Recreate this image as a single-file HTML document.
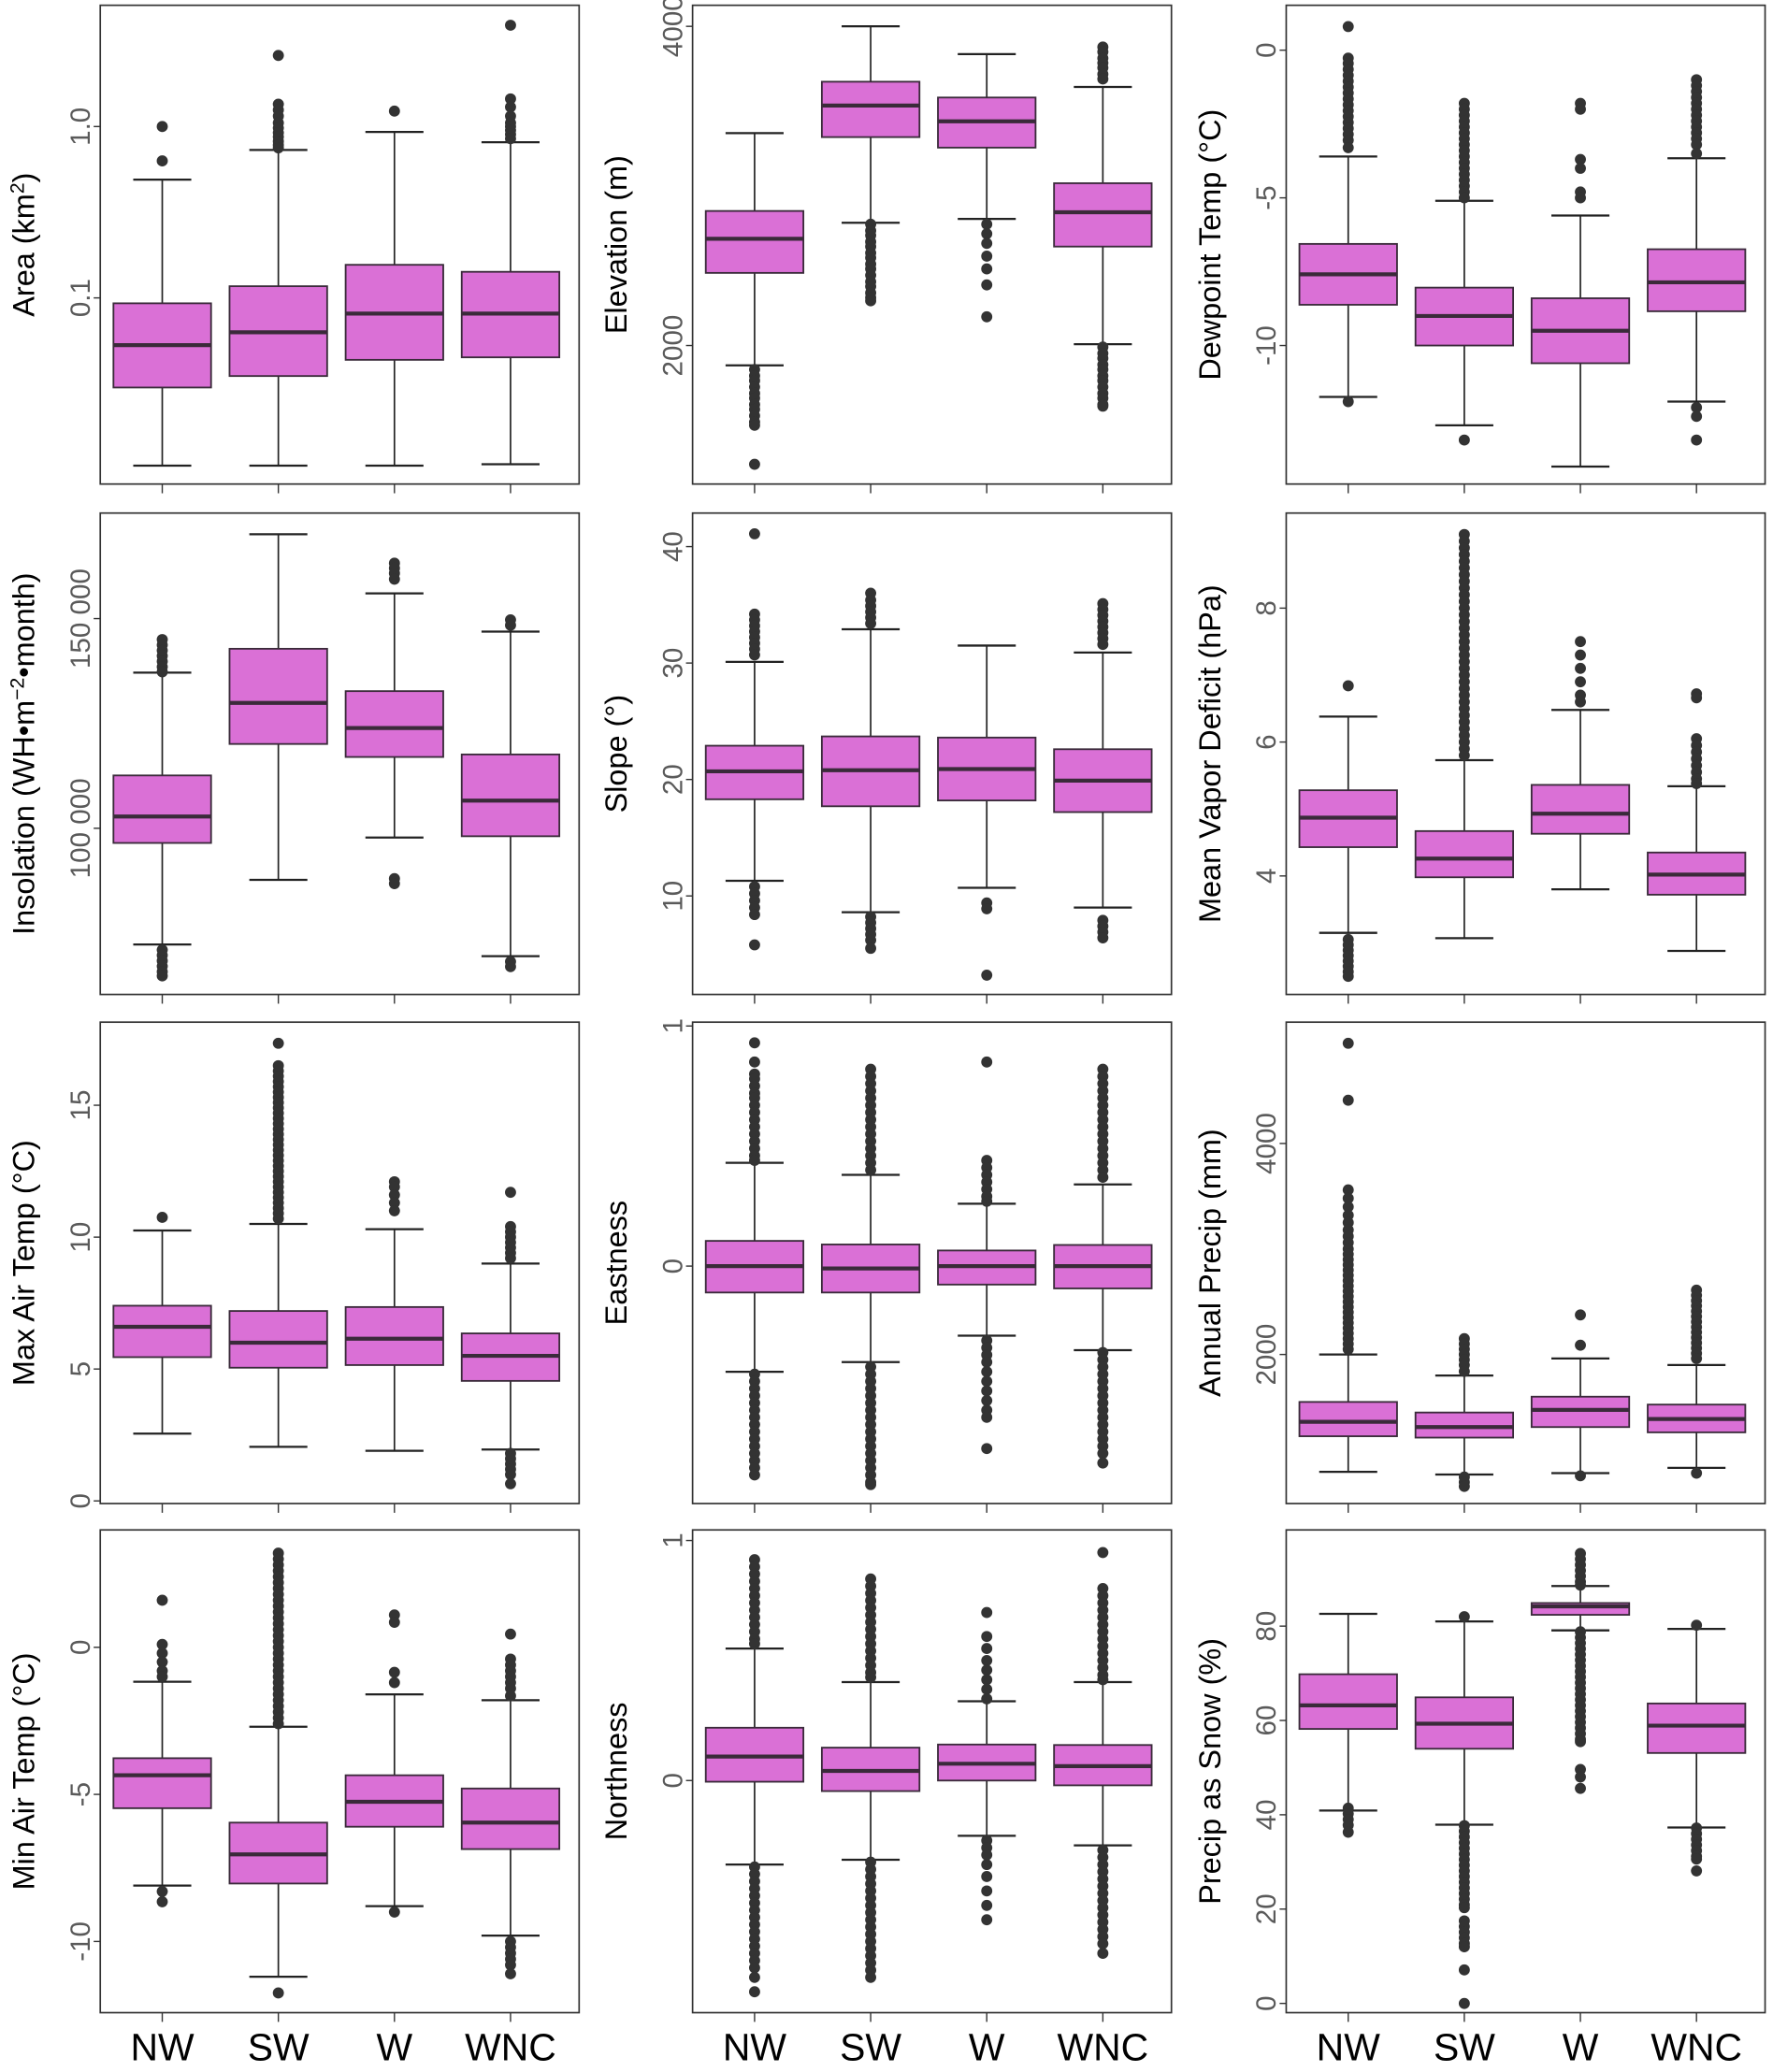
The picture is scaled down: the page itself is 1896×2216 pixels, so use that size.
<!DOCTYPE html>
<html><head><meta charset="utf-8"><style>
html,body{margin:0;padding:0;background:#fff;}
svg{display:block;font-family:"Liberation Sans",Arial,sans-serif;}
</style></head><body>
<svg id="chart" xmlns="http://www.w3.org/2000/svg" width="1896" height="2216" viewBox="0 0 1344 1571" preserveAspectRatio="none"></svg>
<script>
const categories = ["NW","SW","W","WNC"];

// stats per category: [lowWhisker, q1, median, q3, highWhisker]
const areaStats = [[0.0105,0.030,0.053,0.093,0.49],[0.0105,0.035,0.063,0.117,0.73],[0.0105,0.0435,0.081,0.156,0.93],[0.0107,0.045,0.081,0.142,0.81]];
const areaOut = [[1.0,0.63],[2.6,1.35,1.25,1.15,1.05,0.98,0.92,0.87,0.82,0.78,0.75],[1.23],[3.9,1.45,1.3,1.15,1.05,1.0,0.95,0.9,0.85]];

const elevStats = [[1876,2455,2669,2843,3331],[2769,3306,3504,3653,4000],[2793,3240,3405,3554,3826],[2008,2620,2835,3017,3620]];
const elevOut = [[1850,1810,1780,1740,1700,1670,1630,1600,1560,1520,1500,1256],[2760,2720,2690,2650,2620,2580,2550,2510,2480,2440,2400,2370,2330,2300,2280],[2760,2700,2640,2560,2480,2380,2180],[3870,3840,3800,3770,3740,3700,3670,1990,1950,1920,1880,1850,1810,1780,1740,1700,1670,1630,1620]];

const dewStats = [[-11.74,-8.62,-7.59,-6.56,-3.6],[-12.7,-10.0,-9.0,-8.04,-5.1],[-14.1,-10.6,-9.5,-8.4,-5.6],[-11.9,-8.84,-7.86,-6.74,-3.66]];
const dewOut = [[0.8,-0.27,-0.45,-0.65,-0.85,-1.05,-1.25,-1.45,-1.65,-1.85,-2.05,-2.25,-2.45,-2.65,-2.85,-3.05,-3.3,-11.9],[-1.8,-2.0,-2.2,-2.4,-2.6,-2.8,-3.0,-3.2,-3.4,-3.6,-3.8,-4.0,-4.2,-4.4,-4.6,-4.8,-5.0,-13.2],[-1.8,-2.0,-3.7,-4.0,-4.8,-5.0],[-1.0,-1.2,-1.4,-1.6,-1.8,-2.0,-2.2,-2.4,-2.6,-2.8,-3.0,-3.2,-3.5,-12.1,-12.4,-13.2]];

const insoStats = [[72300,96500,102800,112600,137100],[87700,120100,129900,142800,170100],[97800,117000,123900,132700,156000],[69500,98100,106600,117600,146900]];
const insoOut = [[145000,143700,142400,141100,139800,138500,137300,71000,69700,68400,67100,65800,64800],[],[163200,162000,160800,159400,88000,86800],[149700,148400,68200,67000]];

const slopeStats = [[11.3,18.3,20.7,22.9,30.1],[8.6,17.7,20.8,23.7,32.9],[10.7,18.2,20.9,23.6,31.5],[9.0,17.2,19.9,22.6,30.9]];
const slopeOut = [[41.1,34.2,33.7,33.2,32.7,32.2,31.7,31.2,30.7,10.8,10.2,9.6,9.0,8.4,5.8],[36.0,35.4,34.9,34.4,33.9,33.4,8.2,7.7,7.2,6.7,6.2,5.5],[9.4,8.9,3.2],[35.1,34.6,34.1,33.6,33.1,32.6,32.1,31.6,7.9,7.4,6.9,6.4]];

const vpdStats = [[3.15,4.43,4.87,5.28,6.38],[3.07,3.98,4.26,4.67,5.73],[3.8,4.63,4.93,5.36,6.48],[2.88,3.72,4.02,4.35,5.34]];
const vpdOut = [[6.84,3.05,2.97,2.89,2.81,2.73,2.65,2.57,2.5],[9.1,9.0,8.9,8.8,8.7,8.6,8.5,8.4,8.3,8.2,8.1,8.0,7.9,7.8,7.7,7.6,7.5,7.4,7.3,7.2,7.1,7.0,6.9,6.8,6.7,6.6,6.5,6.4,6.3,6.2,6.1,6.0,5.9,5.8],[7.5,7.3,7.1,6.9,6.7,6.6],[6.72,6.66,6.05,5.95,5.85,5.75,5.65,5.55,5.45,5.38]];

const tmaxStats = [[2.55,5.45,6.6,7.4,10.25],[2.05,5.05,6.0,7.2,10.5],[1.9,5.15,6.15,7.35,10.3],[1.95,4.55,5.5,6.35,9.0]];
const tmaxOut = [[10.75],[17.35,16.5,16.3,16.1,15.9,15.7,15.5,15.3,15.1,14.9,14.7,14.5,14.3,14.1,13.9,13.7,13.5,13.3,13.1,12.9,12.7,12.5,12.3,12.1,11.9,11.7,11.5,11.3,11.1,10.9,10.7],[12.1,11.9,11.6,11.3,11.0],[11.7,10.4,10.2,10.0,9.8,9.6,9.4,9.2,1.8,1.6,1.4,1.2,1.0,0.65]];

const eastStats = [[-0.44,-0.11,0.0,0.105,0.43],[-0.40,-0.11,-0.01,0.09,0.38],[-0.29,-0.077,0.0,0.065,0.26],[-0.35,-0.093,0.0,0.088,0.34]];
const eastOut = [[0.93,0.85,0.8,0.78,0.75,0.72,0.7,0.67,0.64,0.61,0.58,0.55,0.52,0.49,0.46,0.44,-0.45,-0.48,-0.51,-0.54,-0.57,-0.6,-0.63,-0.66,-0.69,-0.72,-0.75,-0.78,-0.81,-0.84,-0.87],[0.82,0.79,0.76,0.73,0.70,0.67,0.64,0.61,0.58,0.55,0.52,0.49,0.46,0.43,0.40,-0.42,-0.45,-0.48,-0.51,-0.54,-0.57,-0.6,-0.63,-0.66,-0.69,-0.72,-0.75,-0.78,-0.81,-0.84,-0.87,-0.9,-0.91],[0.85,0.44,0.41,0.38,0.35,0.32,0.29,0.27,-0.31,-0.34,-0.37,-0.4,-0.44,-0.48,-0.52,-0.56,-0.6,-0.63,-0.76],[0.82,0.79,0.76,0.73,0.70,0.67,0.64,0.61,0.58,0.55,0.52,0.49,0.46,0.43,0.40,0.37,-0.36,-0.39,-0.42,-0.45,-0.48,-0.51,-0.54,-0.57,-0.6,-0.63,-0.66,-0.69,-0.72,-0.75,-0.78,-0.82]];

const precStats = [[888,1225,1362,1550,2000],[862,1212,1312,1450,1800],[875,1312,1475,1600,1962],[925,1262,1388,1525,1900]];
const precOut = [[4950,4410,3560,3480,3400,3320,3250,3180,3120,3060,3000,2950,2900,2850,2800,2750,2700,2650,2600,2550,2500,2450,2400,2350,2300,2250,2200,2150,2100,2050],[2150,2100,2050,2000,1950,1900,1840,838,790,750],[2375,2088,850],[2610,2560,2510,2460,2410,2360,2310,2260,2210,2160,2110,2060,2010,1962,875]];

const tminStats = [[-8.1,-5.47,-4.35,-3.77,-1.17],[-11.2,-8.03,-7.04,-5.96,-2.7],[-8.8,-6.1,-5.25,-4.35,-1.6],[-9.8,-6.86,-5.96,-4.8,-1.8]];
const tminOut = [[1.6,0.1,-0.2,-0.5,-0.8,-1.0,-8.3,-8.65],[3.2,3.0,2.8,2.6,2.4,2.2,2.0,1.8,1.6,1.4,1.2,1.0,0.8,0.6,0.4,0.2,0.0,-0.2,-0.4,-0.6,-0.8,-1.0,-1.2,-1.4,-1.6,-1.8,-2.0,-2.2,-2.4,-2.6,-11.75],[1.1,0.85,-0.85,-1.2,-9.0],[0.45,-0.4,-0.6,-0.8,-1.0,-1.2,-1.4,-1.65,-10.0,-10.2,-10.4,-10.6,-10.8,-11.1]];

const northStats = [[-0.35,-0.005,0.10,0.22,0.55],[-0.33,-0.044,0.04,0.137,0.41],[-0.23,0.0,0.07,0.15,0.33],[-0.27,-0.02,0.06,0.148,0.41]];
const northOut = [[0.92,0.89,0.86,0.83,0.80,0.77,0.74,0.71,0.68,0.65,0.62,0.59,0.57,-0.36,-0.39,-0.42,-0.45,-0.48,-0.51,-0.54,-0.57,-0.6,-0.63,-0.66,-0.69,-0.72,-0.75,-0.78,-0.82,-0.88],[0.84,0.81,0.78,0.75,0.72,0.69,0.66,0.63,0.60,0.57,0.54,0.51,0.48,0.45,0.43,-0.34,-0.37,-0.4,-0.43,-0.46,-0.49,-0.52,-0.55,-0.58,-0.61,-0.64,-0.67,-0.7,-0.73,-0.76,-0.79,-0.82],[0.70,0.60,0.55,0.50,0.46,0.42,0.38,0.34,-0.25,-0.28,-0.31,-0.35,-0.4,-0.46,-0.52,-0.58],[0.95,0.8,0.77,0.74,0.71,0.68,0.65,0.62,0.59,0.56,0.53,0.50,0.47,0.44,0.42,-0.29,-0.32,-0.35,-0.38,-0.41,-0.44,-0.47,-0.5,-0.53,-0.56,-0.59,-0.62,-0.65,-0.68,-0.72]];

const snowStats = [[40.9,58.2,63.2,69.8,82.6],[37.9,54.0,59.3,64.9,81.0],[79.1,82.4,84.2,84.9,88.5],[37.3,53.1,58.9,63.6,79.4]];
const snowOut = [[41.4,40.2,39.0,37.8,36.3],[82,37.7,36.5,35.3,34.1,32.9,31.7,30.5,29.3,28.1,26.9,25.7,24.5,23.3,22.1,20.9,20.3,17.5,16.3,15.1,13.9,12.7,12,7.1,0],[95.4,94.2,93,91.8,90.6,89.4,88.7,78.8,77.6,76.4,75.2,74,72.8,71.6,70.4,69.2,68,66.8,65.6,64.4,63.2,62,60.8,59.6,58.4,57.2,56,55.5,49.6,48,45.6],[80.2,37.2,36,34.8,33.6,32.4,31.2,30.6,28.1]];

const panels = [
 {key:"area",col:0,row:0,title:'Area (km<tspan dy="-8" font-size="15">2</tspan><tspan dy="8">)</tspan>',min:0.0082,max:5.1,log:true,ticks:[0.1,1.0],labels:["0.1","1.0"],stats:areaStats,out:areaOut},
 {key:"elevation",col:1,row:0,title:"Elevation (m)",min:1132,max:4132,ticks:[2000,4000],labels:["2000","4000"],stats:elevStats,out:elevOut},
 {key:"dewpoint",col:2,row:0,title:"Dewpoint Temp (°C)",min:-14.69,max:1.52,ticks:[-10,-5,0],labels:["-10","-5","0"],stats:dewStats,out:dewOut},
 {key:"insolation",col:0,row:1,title:'Insolation (WH•m<tspan dy="-8" font-size="15">−2</tspan><tspan dy="8">•month)</tspan>',min:60377,max:175160,ticks:[100000,150000],labels:["100 000","150 000"],stats:insoStats,out:insoOut},
 {key:"slope",col:1,row:1,title:"Slope (°)",min:1.54,max:42.88,ticks:[10,20,30,40],labels:["10","20","30","40"],stats:slopeStats,out:slopeOut},
 {key:"vpd",col:2,row:1,title:"Mean Vapor Deficit (hPa)",min:2.23,max:9.42,ticks:[4,6,8],labels:["4","6","8"],stats:vpdStats,out:vpdOut},
 {key:"tmax",col:0,row:2,title:"Max Air Temp (°C)",min:-0.1,max:18.15,ticks:[0,5,10,15],labels:["0","5","10","15"],stats:tmaxStats,out:tmaxOut},
 {key:"eastness",col:1,row:2,title:"Eastness",min:-0.989,max:1.016,ticks:[0,1],labels:["0","1"],stats:eastStats,out:eastOut},
 {key:"precip",col:2,row:2,title:"Annual Precip (mm)",min:587,max:5150,ticks:[2000,4000],labels:["2000","4000"],stats:precStats,out:precOut},
 {key:"tmin",col:0,row:3,title:"Min Air Temp (°C)",min:-12.42,max:3.99,ticks:[-10,-5,0],labels:["-10","-5","0"],stats:tminStats,out:tminOut},
 {key:"northness",col:1,row:3,title:"Northness",min:-0.967,max:1.044,ticks:[0,1],labels:["0","1"],stats:northStats,out:northOut},
 {key:"snow",col:2,row:3,title:"Precip as Snow (%)",min:-1.96,max:100.4,ticks:[0,20,40,60,80],labels:["0","20","40","60","80"],stats:snowStats,out:snowOut}
];

const colLeft=[76,525,975], colW=363;
const rowTop=[4,389,775,1160], rowH=[363,365,365,366];
const svg=document.getElementById('chart');
const NS="http://www.w3.org/2000/svg";
function mk(tag,attrs,parent){const e=document.createElementNS(NS,tag);for(const k in attrs)e.setAttribute(k,attrs[k]);(parent||svg).appendChild(e);return e;}

panels.forEach(p=>{
  const L=colLeft[p.col], T=rowTop[p.row], H=rowH[p.row];
  const g=mk('g',{});
  
  
  const tr = v => p.log ? Math.log10(v) : v;
  const y = v => T + H - (tr(v)-tr(p.min))/(tr(p.max)-tr(p.min))*H;
  const x = i => L + 47 + i*88;
  const frame=mk('rect',{x:L,y:T,width:colW,height:H,fill:'#fff',stroke:'#333','stroke-width':1.2},g);
  
  
  p.ticks.forEach((t,i)=>{
    const yy=y(t);
    mk('line',{x1:L-5,x2:L,y1:yy,y2:yy,stroke:'#333','stroke-width':1},g);
    const tx=mk('text',{x:0,y:0,transform:`translate(${L-8},${yy}) rotate(-90)`,'text-anchor':'middle','font-size':21,fill:'#5a5a5a'},g);
    tx.textContent=p.labels[i];
    
    
  });
  const ti=mk('text',{x:0,y:0,transform:`translate(${L-50},${T+H/2}) rotate(-90)`,'text-anchor':'middle','font-size':23,fill:'#000'},g);
  ti.innerHTML=p.title;
  
  
  categories.forEach((c,i)=>{
    const cx=x(i), s=p.stats[i];
    mk('line',{x1:cx,x2:cx,y1:T+H,y2:T+H+7,stroke:'#333','stroke-width':1},g);
    mk('line',{x1:cx,x2:cx,y1:y(s[0]),y2:y(s[4]),stroke:'#222','stroke-width':1.2},g);
    mk('line',{x1:cx-22,x2:cx+22,y1:y(s[0]),y2:y(s[0]),stroke:'#222','stroke-width':1.6},g);
    mk('line',{x1:cx-22,x2:cx+22,y1:y(s[4]),y2:y(s[4]),stroke:'#222','stroke-width':1.6},g);
    const b=mk('rect',{x:cx-37,y:y(s[3]),width:74,height:y(s[1])-y(s[3]),fill:'#da70d6',stroke:'#3a2a3a','stroke-width':1.3},g);
    
    
    mk('line',{x1:cx-37,x2:cx+37,y1:y(s[2]),y2:y(s[2]),stroke:'#3a2a3a','stroke-width':3},g);
    p.out[i].forEach(v=>{
      const d=mk('circle',{cx:cx,cy:y(v),r:4.2,fill:'#333'},g);
      
      
    });
    if(p.row===3){
      const xl=mk('text',{x:cx,y:1562,'text-anchor':'middle','font-size':29,fill:'#000'},g);
      xl.textContent=c;
      
      
    }
  });
});
</script>
</body></html>
